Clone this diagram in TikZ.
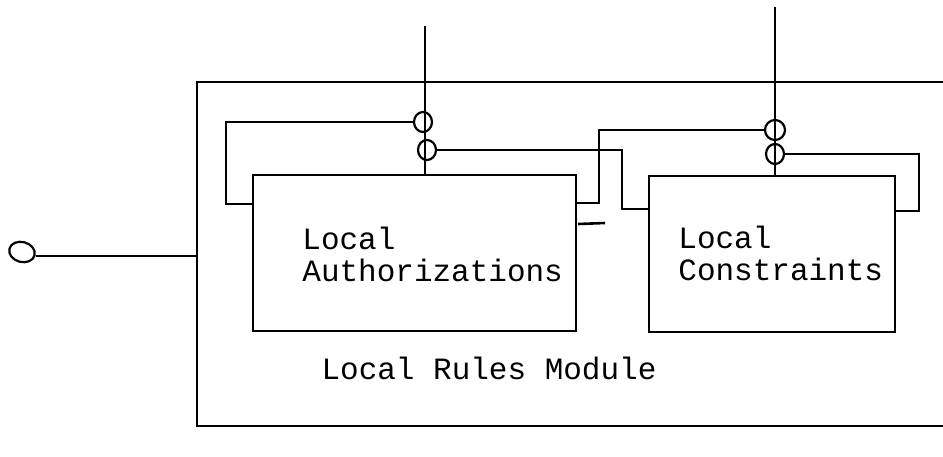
\documentclass[tikz,border=0pt]{standalone}
\usepackage{fontspec}
\setmonofont{Liberation Mono}
\usetikzlibrary{shapes.geometric}
\tikzset{
  blockbox/.style={draw, line width=1.3pt, minimum width=161.5pt, minimum height=78pt, inner sep=0pt},
  modborder/.style={line width=1.2pt},
  wire/.style={line width=0.9pt},
  loopring/.style={draw, ellipse, line width=1.1pt, minimum width=9pt, minimum height=10pt, inner sep=0pt},
  lbl/.style={font=\ttfamily\fontsize{15.5}{16}\selectfont, align=left, inner sep=0pt}
}
\begin{document}
\begin{tikzpicture}[x=0.5pt, y=-0.5pt]
\useasboundingbox (0,0) rectangle (943,456);
% outer module border (open on the right)
\coordinate (oTR) at (943,82);
\coordinate (oTL) at (197,82);
\coordinate (oBL) at (197,426);
\coordinate (oBR) at (943,426);
\draw[modborder] (oTR) -- (oTL) -- (oBL) -- (oBR);
% inner blocks
\node[blockbox] (box1) at (414.5,253) {};
\node[blockbox, minimum width=123pt] (box2) at (772,254) {};
\node[lbl, anchor=west] (t1) at (302,254) {Local\\Authorizations};
\node[lbl, anchor=west] (t2) at (678,253) {Local\\Constraints};
\node[lbl] (t3) at (489,368) {Local Rules Module};
% rings
\node[loopring] (c1) at (423,122) {};
\node[loopring] (c2) at (427,150) {};
\node[loopring, minimum width=10pt] (c3) at (775,130) {};
\node[loopring] (c4) at (775,154) {};
\node[loopring, minimum width=13pt, minimum height=10pt, rotate=-15] (lc) at (22,252) {};
% input lines from top
\coordinate (top1) at (425,26);
\coordinate (top2) at (775,7);
\draw[wire] (top1) -- (top1 |- box1.north);
\draw[wire] (top2) -- (top2 |- box2.north);
% left input
\draw[wire] (lc.east) -- (lc.east -| oBL);
% feedback loops
\coordinate (k1) at (226,204);
\draw[wire] (c1.west) -- (c1.west -| k1) -- (k1) -- (k1 -| box1.west);
\coordinate (k2) at (622,209);
\draw[wire] (c2.east) -- (c2.east -| k2) -- (k2) -- (k2 -| box2.west);
\coordinate (k3) at (599,203);
\draw[wire] (k3 -| box1.east) -- (k3) -- (k3 |- c3.west) -- (c3.west);
\coordinate (k4) at (919,211);
\draw[wire] (c4.east) -- (c4.east -| k4) -- (k4) -- (k4 -| box2.east);
% output stub
\coordinate (s0) at (578,224);
\coordinate (s1) at (605,223);
\draw[wire, line width=1.3pt] (s0) -- (s1);
\end{tikzpicture}
\end{document}
